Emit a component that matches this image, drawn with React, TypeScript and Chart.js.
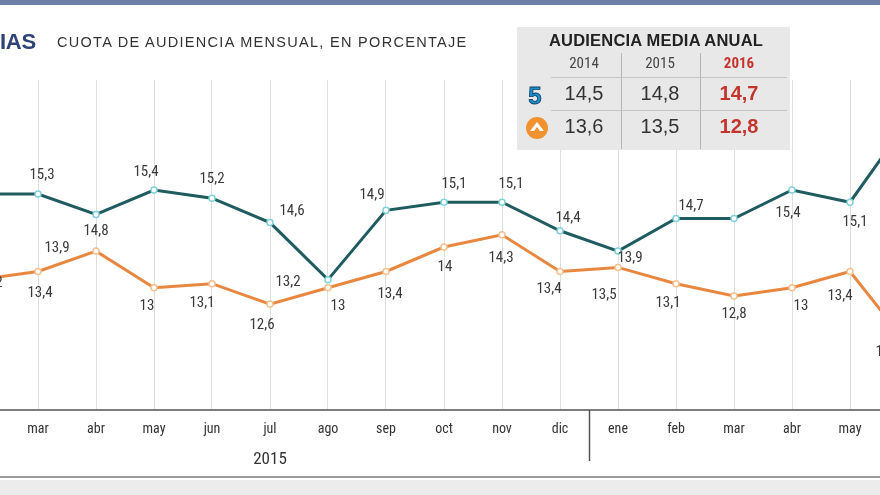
import React, { useEffect, useRef } from "react";
import { Chart, registerables } from "chart.js";

Chart.register(...registerables);

// ---- data ----
const months = ["feb", "mar", "abr", "may", "jun", "jul", "ago", "sep", "oct", "nov", "dic", "ene", "feb", "mar", "abr", "may", "jun"];
const telecinco = [15.3, 15.3, 14.8, 15.4, 15.2, 14.6, 13.2, 14.9, 15.1, 15.1, 14.4, 13.9, 14.7, 14.7, 15.4, 15.1, 17.1];
const antena3 = [13.2, 13.4, 13.9, 13.0, 13.1, 12.6, 13.0, 13.4, 14.0, 14.3, 13.4, 13.5, 13.1, 12.8, 13.0, 13.4, 11.6];
const yearLabel = "2015";
const yearLabelIndex = 5;
const yearBreakIndex = 10.5;
const annualYears = ["2014", "2015", "2016"];
const annualTelecinco = [14.5, 14.8, 14.7];
const annualAntena3 = [13.6, 13.5, 12.8];

// ---- label placement (style) ----
const teleOffsets: ([number, number] | null)[] = [
  [0, -19], [4, -19], [0, 17], [-8, -18], [0, -19], [22, -11], [-40, 3], [-14, -15], [10, -18],
  [9, -18], [8, -12], [12, 7], [15, -12], null, [-4, 23], [5, 20], [0, -19],
];
const antOffsets: ([number, number] | null)[] = [
  [10, 4], [2, 22], [-39, -3], [-7, 18], [-10, 20], [-8, 21], [10, 18], [4, 23], [1, 20],
  [-1, 23], [-11, 18], [-14, 28], [-8, 20], [0, 18], [9, 18], [-10, 25], [-20, 7],
];

const TEAL = "#1f5c60";
const ORANGE = "#e8873f";
const NARROW = '"Liberation Sans Narrow", "Roboto Condensed", Roboto, Arial, sans-serif';
const SANS = '"Liberation Sans", Arial, sans-serif';

const fmt = (v: number) => String(v).replace(".", ",");

const decorPlugin = {
  id: "decor",
  afterDraw(chart: any) {
    const ctx = chart.ctx;
    const x = chart.scales.x;
    ctx.save();
    ctx.fillStyle = "#ececec";
    ctx.fillRect(0, 480, chart.width, 15);
    ctx.strokeStyle = "#9a9a9a";
    ctx.lineWidth = 2;
    ctx.beginPath();
    ctx.moveTo(0, 477);
    ctx.lineTo(chart.width, 477);
    ctx.stroke();
    const sx = Math.round(x.getPixelForValue(yearBreakIndex)) + 0.5;
    ctx.strokeStyle = "#555";
    ctx.lineWidth = 1.5;
    ctx.beginPath();
    ctx.moveTo(sx, 410);
    ctx.lineTo(sx, 461);
    ctx.stroke();
    ctx.fillStyle = "#333";
    ctx.font = `17px ${NARROW}`;
    ctx.textAlign = "center";
    ctx.textBaseline = "middle";
    ctx.fillText(yearLabel, x.getPixelForValue(yearLabelIndex), 460);
    ctx.restore();
  },
  afterDatasetsDraw(chart: any) {
    const ctx = chart.ctx;
    ctx.save();
    ctx.font = `15px ${NARROW}`;
    ctx.fillStyle = "#3a3a3a";
    ctx.textAlign = "center";
    ctx.textBaseline = "middle";
    chart.data.datasets.forEach((ds: any, di: number) => {
      const meta = chart.getDatasetMeta(di);
      const offs = di === 0 ? teleOffsets : antOffsets;
      meta.data.forEach((pt: any, i: number) => {
        const o = offs[i];
        if (!o) return;
        ctx.fillText(fmt(ds.data[i].y), pt.x + o[0], pt.y + o[1]);
      });
    });
    ctx.restore();
  },
};

function ChartCanvas() {
  const ref = useRef<HTMLCanvasElement>(null);
  useEffect(() => {
    if (!ref.current) return;
    const chart = new Chart(ref.current, {
      type: "line",
      data: {
        datasets: [
          {
            label: "Telecinco",
            data: telecinco.map((v, i) => ({ x: i, y: v })),
            borderColor: TEAL,
            borderWidth: 3,
            pointRadius: 3,
            pointBackgroundColor: "#ffffff",
            pointBorderColor: "#7fd3d8",
            pointBorderWidth: 1.5,
            tension: 0,
          },
          {
            label: "Antena 3",
            data: antena3.map((v, i) => ({ x: i, y: v })),
            borderColor: ORANGE,
            borderWidth: 3,
            pointRadius: 3,
            pointBackgroundColor: "#ffffff",
            pointBorderColor: "#f7c08f",
            pointBorderWidth: 1.5,
            tension: 0,
          },
        ],
      },
      options: {
        animation: false,
        responsive: false,
        maintainAspectRatio: false,
        layout: { autoPadding: false, padding: { top: 80, left: 0, right: 0, bottom: 0 } },
        plugins: { legend: { display: false }, tooltip: { enabled: false }, title: { display: false } },
        scales: {
          x: {
            type: "linear",
            min: 20 / 58,
            max: 15 + 30 / 58,
            afterBuildTicks: (s: any) => {
              s.ticks = months.map((_, i) => ({ value: i })).filter((t) => t.value >= s.min && t.value <= s.max);
            },
            afterFit: (s: any) => {
              s.height = 85;
              s.paddingLeft = 0;
              s.paddingRight = 0;
            },
            ticks: {
              autoSkip: false,
              maxRotation: 0,
              padding: 11,
              color: "#333",
              font: { family: NARROW, size: 14 },
              callback: (v: any) => months[v as number],
            },
            grid: { color: "#dedede", lineWidth: 1, drawTicks: false },
            border: { display: true, color: "#7d7d7d", width: 2 },
          },
          y: { display: false, min: 10, max: 18.1 },
        },
      },
      plugins: [decorPlugin],
    } as any);
    return () => chart.destroy();
  }, []);
  return <canvas ref={ref} width={880} height={495} style={{ position: "absolute", left: 0, top: 0, width: 880, height: 495 }} />;
}

function TelecincoLogo() {
  return (
    <svg width="22" height="24" viewBox="0 0 22 24">
      <text x="11" y="20" textAnchor="middle" fontFamily={SANS} fontWeight="bold" fontSize="24" fill="#1b8fd0" stroke="#0d3c5c" strokeWidth="0.8">5</text>
    </svg>
  );
}

function Antena3Logo() {
  return (
    <svg width="24" height="24" viewBox="0 0 24 24">
      <circle cx="12" cy="12" r="11" fill="#f0922f" />
      <path d="M5 15 L12 6 L19 15 L15 15 L12 11 L9 15 Z" fill="#ffffff" />
    </svg>
  );
}

function AnnualTable() {
  const colX = [584, 660, 739];
  const cell = (text: string, x: number, y: number, style: React.CSSProperties) => (
    <div key={text + x + y} style={{ position: "absolute", left: x - 40, top: y, width: 80, textAlign: "center", ...style }}>{text}</div>
  );
  return (
    <div style={{ position: "absolute", left: 517, top: 27, width: 273, height: 123, background: "#e8e8e8" }}>
      <div style={{ position: "absolute", left: 0, top: 4, width: 278, textAlign: "center", fontFamily: SANS, fontWeight: "bold", fontSize: 16.5, color: "#222", letterSpacing: 0.2 }}>
        AUDIENCIA MEDIA ANUAL
      </div>
      <div style={{ position: "absolute", left: 104, top: 26, width: 1, height: 96, background: "#b5b5b5" }} />
      <div style={{ position: "absolute", left: 183, top: 26, width: 1, height: 96, background: "#b5b5b5" }} />
      <div style={{ position: "absolute", left: 34, top: 50, width: 236, height: 1, background: "#c4c4c4" }} />
      <div style={{ position: "absolute", left: 34, top: 83, width: 236, height: 1, background: "#c4c4c4" }} />
      <div style={{ position: "absolute", left: 7, top: 57 }}><TelecincoLogo /></div>
      <div style={{ position: "absolute", left: 8, top: 89 }}><Antena3Logo /></div>
      {annualYears.map((y, i) =>
        cell(y, colX[i] - 517, 27, { fontFamily: NARROW, fontSize: 15, color: i === 2 ? "#c4342d" : "#444", fontWeight: i === 2 ? "bold" : "normal" })
      )}
      {annualTelecinco.map((v, i) =>
        cell(fmt(v), colX[i] - 517, 55, { fontFamily: SANS, fontSize: 20, color: i === 2 ? "#c4342d" : "#333", fontWeight: i === 2 ? "bold" : "normal" })
      )}
      {annualAntena3.map((v, i) =>
        cell(fmt(v), colX[i] - 517, 88, { fontFamily: SANS, fontSize: 20, color: i === 2 ? "#c4342d" : "#333", fontWeight: i === 2 ? "bold" : "normal" })
      )}
    </div>
  );
}

export default function App() {
  return (
    <div style={{ position: "fixed", left: 0, top: 0, width: 880, height: 495, overflow: "hidden", background: "#fff" }}>
      <ChartCanvas />
      <div style={{ position: "absolute", left: 0, top: 0, width: 880, height: 5, background: "#6f80a8" }} />
      <div style={{ position: "absolute", left: 0, top: 29, fontFamily: SANS, fontWeight: "bold", fontSize: 22, color: "#2e4479", letterSpacing: -0.3 }}>IAS</div>
      <div style={{ position: "absolute", left: 57, top: 34, fontFamily: SANS, fontSize: 14.5, color: "#333", letterSpacing: 1.3, whiteSpace: "nowrap" }}>
        CUOTA DE AUDIENCIA MENSUAL, EN PORCENTAJE
      </div>
      <AnnualTable />
    </div>
  );
}
